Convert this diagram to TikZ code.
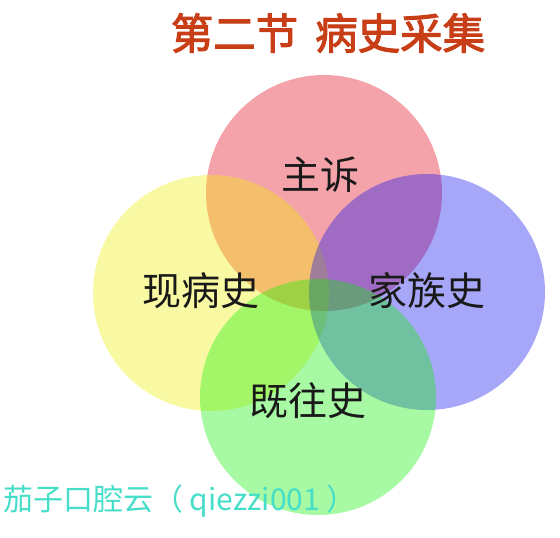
\documentclass[tikz,border=0pt]{standalone}
\usepackage{fontspec}
\newfontfamily\cjk{Noto Sans CJK SC}
\newfontfamily\cjkb{Noto Sans CJK SC}[FakeBold=2.5]
\definecolor{cred}{RGB}{228,0,20}
\definecolor{cyel}{RGB}{241,241,0}
\definecolor{cblu}{RGB}{12,12,241}
\definecolor{cgrn}{RGB}{12,241,0}
\definecolor{ctitle}{RGB}{200,62,22}
\definecolor{cwm}{RGB}{70,222,200}
\begin{document}
\begin{tikzpicture}[x=1pt,y=-1pt,
  disc/.style={fill opacity=0.36, draw=none},
  lbl/.style={font=\cjk\fontsize{39}{42}\selectfont, text=black!90, inner sep=0pt}]
\useasboundingbox[fill=white] (0,0) rectangle (560,538);
\fill[disc, fill=cred] (324,193) circle (118);
\fill[disc, fill=cyel] (211,293) circle (118);
\fill[disc, fill=cblu] (427,292) circle (118);
\fill[disc, fill=cgrn] (318,397) circle (118);
\node[inner sep=0pt, text=ctitle, font=\cjkb\fontsize{42.5}{46}\selectfont] (title) at (328,33) {第二节\hspace{0.4em}病史采集};
\node[lbl] (zs) at (320,175) {主诉};
\node[lbl] (xbs) at (201,291) {现病史};
\node[lbl] (jzs) at (427,291) {家族史};
\node[lbl] (jws) at (308,401) {既往史};
\node[inner sep=0pt, anchor=west, text=cwm, font=\cjk\fontsize{30}{33}\selectfont] (wm) at (3,501) {茄子口腔云（ qiezzi001 ）};
\end{tikzpicture}
\end{document}
